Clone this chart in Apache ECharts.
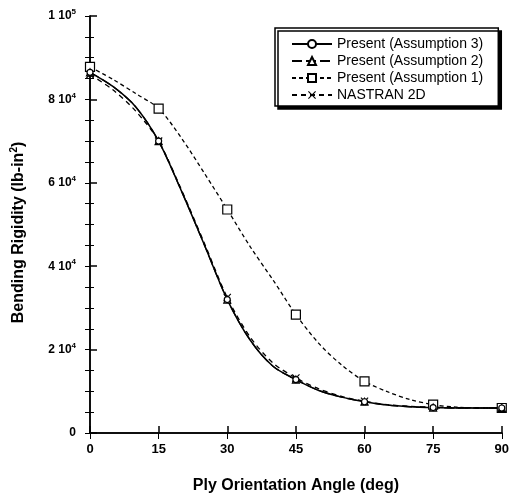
<!DOCTYPE html>
<html>
<head>
<meta charset="utf-8">
<script src="https://cdn.jsdelivr.net/npm/echarts@6/dist/echarts.min.js"></script>
<style>
  html, body { margin: 0; padding: 0; background: #fff; }
  #chart { width: 512px; height: 500px; }
</style>
</head>
<body>
<div id="chart"></div>
<script>
// ply angle (deg), read every 5 deg off the curves
const angles = [0, 5, 10, 15, 20, 25, 30, 35, 40, 45, 50, 55, 60, 65, 70, 75, 80, 85, 90]
const assumption3 = [86500, 83100, 78200, 70000, 58000, 45100, 32000, 22300, 16000, 12800, 10200, 8600, 7500, 6700, 6300, 6100, 6000, 6000, 6000]
const assumption2 = [86500, 83100, 78200, 70000, 58000, 45100, 32000, 22300, 16000, 12800, 10200, 8600, 7500, 6700, 6300, 6100, 6000, 6000, 6000]
const assumption1 = [87800, 84800, 81400, 77800, 70700, 62300, 53600, 44700, 36700, 28400, 21500, 16300, 12400, 9900, 8000, 6800, 6200, 6000, 6000]
const nastran = [86000, 82300, 77200, 70000, 58300, 45500, 32500, 23000, 16800, 13200, 10600, 8800, 7600, 6800, 6400, 6200, 6050, 6000, 6000]

const font = 'Liberation Sans, Arial, sans-serif'
const xMark = 'path://M0,1L1,0L5,4L9,0L10,1L6,5L10,9L9,10L5,6L1,10L0,9L4,5Z'

// markers only at the 15 deg stations
function pts(vals) {
  return angles.map((a, i) => {
    const item = { value: [a, vals[i]] }
    if (a % 15 !== 0) item.symbol = 'none'
    return item
  })
}

function yLabel(v) {
  if (v === 0) return '{a|0}'
  const e = Math.floor(Math.log10(v))
  const m = Math.round(v / Math.pow(10, e))
  return '{a|' + m + ' 10}{s|' + e + '}'
}

const chart = echarts.init(document.getElementById('chart'))

const axisLine = { show: true, lineStyle: { color: '#000', width: 1.5 } }

chart.setOption({
  animation: false,
  backgroundColor: '#fff',
  grid: { left: 90, right: 7, top: 16, bottom: 67 },
  legend: {
    orient: 'vertical',
    left: 275,
    top: 28,
    data: ['Present (Assumption 3)', 'Present (Assumption 2)', 'Present (Assumption 1)', 'NASTRAN 2D'],
    itemWidth: 40,
    itemHeight: 10,
    itemGap: 3,
    padding: [9, 15, 4, 16],
    backgroundColor: '#fff',
    borderColor: '#000',
    borderWidth: 1.5,
    borderRadius: 0,
    shadowColor: '#000',
    shadowBlur: 0,
    shadowOffsetX: 3,
    shadowOffsetY: 3,
    textStyle: { color: '#000', fontFamily: font, fontSize: 14 }
  },
  xAxis: [
    {
      type: 'value',
      min: 0,
      max: 90,
      interval: 15,
      name: 'Ply Orientation Angle (deg)',
      nameLocation: 'middle',
      nameGap: 45,
      nameTextStyle: { color: '#000', fontFamily: font, fontSize: 16, fontWeight: 'bold' },
      axisLine: axisLine,
      axisTick: { inside: true, length: 7, lineStyle: { color: '#000', width: 1.5 } },
      axisLabel: { color: '#000', fontFamily: font, fontSize: 13, fontWeight: 'bold', margin: 10 },
      splitLine: { show: false }
    },
    {
      type: 'value',
      position: 'top',
      min: 0,
      max: 90,
      interval: 15,
      axisLine: axisLine,
      axisTick: { inside: true, length: 6, lineStyle: { color: '#000', width: 1 } },
      axisLabel: { show: false },
      splitLine: { show: false }
    }
  ],
  yAxis: [
    {
      type: 'value',
      min: 0,
      max: 100000,
      interval: 20000,
      name: '{a|Bending Rigidity (lb-in}{s|2}{a|)}',
      nameLocation: 'middle',
      nameGap: 62,
      nameTextStyle: {
        padding: [0, 16, 0, 0],
        rich: {
          a: { color: '#000', fontFamily: font, fontSize: 16, fontWeight: 'bold' },
          s: { color: '#000', fontFamily: font, fontSize: 10, fontWeight: 'bold', verticalAlign: 'top', padding: [0, 0, 9, 0] }
        }
      },
      axisLine: axisLine,
      axisTick: { inside: true, length: 7, lineStyle: { color: '#000', width: 1.5 } },
      minorTick: { show: true, splitNumber: 4, length: 4, lineStyle: { color: '#000', width: 1 } },
      axisLabel: {
        margin: 14,
        formatter: yLabel,
        rich: {
          a: { color: '#000', fontFamily: font, fontSize: 12, fontWeight: 'bold' },
          s: { color: '#000', fontFamily: font, fontSize: 8, fontWeight: 'bold', verticalAlign: 'top', padding: [0, 0, 8, 0] }
        }
      },
      splitLine: { show: false }
    },
    {
      type: 'value',
      position: 'right',
      min: 0,
      max: 100000,
      interval: 20000,
      axisLine: axisLine,
      axisTick: { inside: true, length: 5, lineStyle: { color: '#000', width: 1 } },
      minorTick: { show: true, splitNumber: 4, length: 5, lineStyle: { color: '#000', width: 1 } },
      axisLabel: { show: false },
      splitLine: { show: false }
    }
  ],
  series: [
    {
      name: 'NASTRAN 2D',
      type: 'line',
      smooth: 0.3,
      data: pts(nastran),
      symbol: xMark,
      symbolSize: 8,
      itemStyle: { color: '#000' },
      lineStyle: { color: '#000', width: 1.3, type: [5, 4] },
      emphasis: { disabled: true }
    },
    {
      name: 'Present (Assumption 1)',
      type: 'line',
      smooth: 0.3,
      data: pts(assumption1),
      symbol: 'rect',
      symbolSize: 9,
      itemStyle: { color: '#fff', borderColor: '#000', borderWidth: 1.2 },
      lineStyle: { color: '#000', width: 1.3, type: [4, 3] },
      emphasis: { disabled: true }
    },
    {
      name: 'Present (Assumption 2)',
      type: 'line',
      smooth: 0.3,
      data: pts(assumption2),
      symbol: 'triangle',
      symbolSize: 7,
      itemStyle: { color: '#fff', borderColor: '#000', borderWidth: 1.2 },
      lineStyle: { color: '#000', width: 1.3, type: [10, 4] },
      emphasis: { disabled: true }
    },
    {
      name: 'Present (Assumption 3)',
      type: 'line',
      smooth: 0.3,
      data: pts(assumption3),
      symbol: 'circle',
      symbolSize: 6,
      itemStyle: { color: '#fff', borderColor: '#000', borderWidth: 1.2 },
      lineStyle: { color: '#000', width: 1.5 },
      emphasis: { disabled: true }
    }
  ]
})
</script>
</body>
</html>
